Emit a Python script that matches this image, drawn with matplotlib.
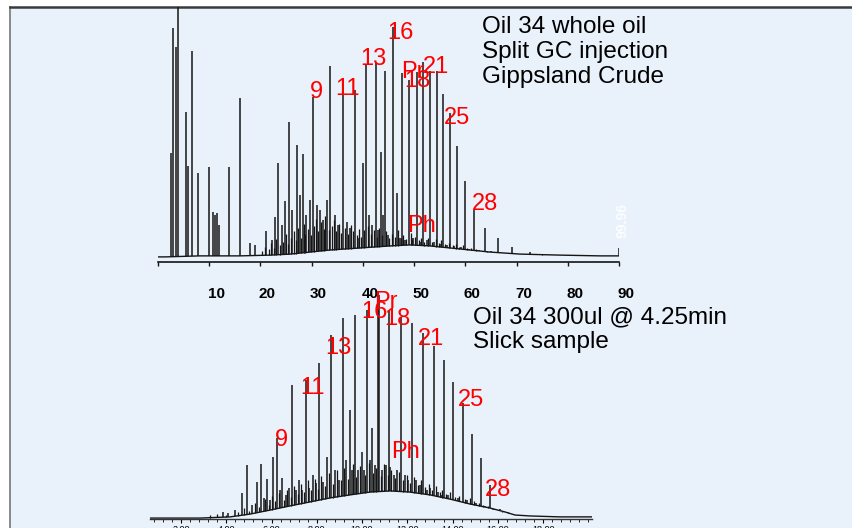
import numpy as np
import matplotlib
matplotlib.use("Agg")
import matplotlib.pyplot as plt

plt.rcParams['font.family'] = ['Liberation Sans', 'DejaVu Sans']

W, H = 853, 528

# ---- whole oil chromatogram (top), x in scale units 0-90, height in % ----
top_peak_x = [2.54, 2.93, 3.51, 3.90, 5.47, 5.86, 6.64, 7.81, 9.96,
              10.74, 11.13, 11.52, 11.91, 13.86, 16.01, 17.96, 18.94, 21.09,
              22.26, 22.84, 23.43, 24.21, 24.80, 25.58, 26.16, 27.14, 27.72,
              28.31, 28.90, 29.68, 30.26, 31.04, 31.63, 32.21, 33.00, 33.58,
              34.56, 35.14, 36.12, 36.90, 37.49, 38.46, 39.05, 40.02, 40.61,
              41.19, 41.78, 42.56, 42.95, 43.54, 43.93, 44.32, 44.90, 45.88,
              46.66, 47.25, 47.64, 48.22, 49.00, 49.78, 50.57, 51.15, 51.74,
              52.52, 53.10, 53.89, 54.47, 55.06, 55.64, 56.42, 57.01, 57.79,
              58.38, 59.16, 59.94, 60.72, 61.69, 62.67, 63.84, 65.01, 66.38,
              69.11, 72.63, 90.0]
top_peak_h = [42.7, 91.7, 84.3, 100, 58.8, 37.6, 82.7, 34.9, 37.2,
              19.6, 18.4, 19.2, 14.5, 37.2, 64.3, 7.4, 6.7, 12.2,
              8.6, 17.6, 38.8, 14.5, 23.9, 54.9, 20.4, 45.9, 26.3,
              42.3, 18.4, 24.3, 64.7, 22.3, 20.4, 16.5, 24.3, 76.8,
              18.4, 14.5, 65.9, 15.7, 13.3, 67.4, 9.4, 38.8, 77.2,
              18.4, 14.5, 78.0, 12.5, 43.1, 18.4, 74.9, 10.6, 92.1,
              27.0, 9.4, 74.1, 8.6, 71.3, 9.4, 74.5, 7.8, 78.4,
              8.6, 74.9, 7.8, 74.9, 7.1, 65.9, 6.7, 58.4, 6.3,
              45.5, 5.9, 31.8, 5.1, 20.4, 4.7, 13.3, 4.3, 9.4,
              5.9, 3.9, 5.5]

top_minor_x = [20.3, 20.9, 21.6, 22.0, 22.6, 23.0, 23.8, 24.4, 25.0, 25.3,
               25.9, 26.5, 26.9, 27.4, 27.9, 28.5, 28.7, 29.2, 29.9, 30.5,
               30.8, 31.3, 31.9, 32.4, 32.7, 33.3, 33.9, 34.3, 34.8, 35.4,
               35.8, 36.5, 37.0, 37.7, 38.1, 38.8, 39.3, 39.7, 40.3, 41.0,
               41.5, 42.1, 42.8, 43.2, 43.8, 44.6, 45.1, 45.6, 46.2, 46.9,
               47.4, 47.9, 48.5, 49.3, 49.6, 50.2, 50.9, 51.4, 52.0, 52.8,
               53.4, 54.2, 54.8, 55.3, 56.1, 56.8, 57.5, 58.1, 58.8, 59.5,
               60.3, 61.1, 62.0, 63.0, 64.2, 65.5, 67.5, 70.0, 75.0, 80.0]
top_minor_h = [4.5, 6.0, 5.0, 7.5, 5.5, 9.0, 6.5, 8.0, 11.0, 7.0,
               9.5, 12.0, 8.5, 13.5, 9.5, 15.0, 11.0, 13.0, 10.5, 14.0,
               17.0, 12.0, 15.5, 13.0, 18.0, 12.5, 14.0, 16.5, 12.0, 15.0,
               11.5, 13.5, 11.0, 14.5, 12.0, 10.5, 13.0, 10.0, 12.5, 14.0,
               11.0, 12.5, 10.0, 13.5, 10.5, 12.0, 9.5, 11.0, 10.0, 12.5,
               9.5, 10.5, 9.0, 11.5, 9.0, 10.0, 8.5, 9.5, 8.0, 9.5,
               8.0, 9.0, 7.5, 8.5, 7.0, 7.5, 6.5, 7.0, 6.0, 6.5,
               5.5, 5.5, 5.0, 4.5, 4.5, 4.0, 3.5, 3.0, 3.0, 2.8]

top_base_x = [0, 1.37, 8.2, 16.0, 21.9, 25.8, 29.7, 33.6, 39.4, 45.3,
              49.2, 53.1, 59.0, 64.8, 70.7, 78.5, 86.3, 90.0]
top_base_y = [2.0, 2.0, 2.4, 2.4, 2.7, 3.1, 3.9, 4.7, 5.5, 6.3,
              6.7, 6.3, 5.1, 3.9, 3.1, 2.7, 2.4, 2.4]

# ---- slick sample chromatogram (bottom), x in minutes ----
bot_peak_x = [3.86, 4.08, 4.39, 4.70, 4.92, 5.14, 5.36, 5.53, 5.67, 5.80,
              5.93, 6.07, 6.24, 6.38, 6.46, 6.64, 6.77, 6.91, 7.08, 7.21,
              7.35, 7.52, 7.66, 7.83, 7.96, 8.10, 8.28, 8.45, 8.63, 8.80,
              8.98, 9.16, 9.29, 9.47, 9.56, 9.69, 9.82, 10.00, 10.08, 10.22,
              10.35, 10.44, 10.57, 10.70, 10.75, 10.88, 11.06, 11.20, 11.24, 11.41,
              11.55, 11.72, 11.90, 12.03, 12.21, 12.38, 12.56, 12.69, 12.87, 13.00,
              13.18, 13.36, 13.49, 13.62, 13.80, 14.02, 14.24, 14.46, 14.64, 14.86,
              15.03, 15.25, 15.43, 15.65, 15.83, 16.10]
bot_peak_h = [3.0, 2.6, 3.8, 11.1, 23.1, 6.0, 15.8, 23.5, 9.0, 17.1,
              8.1, 26.5, 34.6, 12.4, 17.5, 10.3, 13.2, 57.3, 12.4, 16.7,
              12.4, 59.4, 13.2, 18.8, 15.4, 66.7, 15.8, 26.5, 78.6, 20.9,
              16.7, 85.9, 25.2, 46.6, 20.9, 87.2, 20.9, 28.6, 20.9, 89.3,
              25.2, 38.9, 23.1, 97.0, 95.7, 20.9, 23.1, 89.3, 22.2, 18.8,
              20.9, 86.3, 18.8, 16.7, 83.8, 16.7, 14.5, 79.5, 12.4, 13.2,
              73.9, 11.5, 10.3, 68.0, 10.3, 58.6, 9.0, 49.6, 8.1, 36.3,
              6.8, 26.1, 5.6, 14.5, 3.8, 4.3]

bot_minor_x = [3.3, 3.6, 4.0, 4.5, 4.8, 5.0, 5.25, 5.45, 5.7, 5.88,
               6.0, 6.15, 6.32, 6.55, 6.7, 6.85, 7.0, 7.15, 7.3, 7.45,
               7.6, 7.75, 7.9, 8.05, 8.2, 8.38, 8.55, 8.7, 8.9, 9.05,
               9.22, 9.38, 9.6, 9.75, 9.92, 10.12, 10.3, 10.5, 10.62, 10.82,
               10.97, 11.13, 11.3, 11.47, 11.62, 11.8, 11.97, 12.1, 12.3, 12.47,
               12.62, 12.8, 12.95, 13.1, 13.27, 13.45, 13.55, 13.72, 13.9, 14.1,
               14.3, 14.55, 14.75, 14.95, 15.15, 15.35, 15.55, 15.75, 15.95, 16.2,
               16.45, 16.7]
bot_minor_h = [1.5, 2.2, 1.8, 3.0, 4.5, 3.5, 7.0, 5.0, 8.5, 6.0,
               10.0, 7.5, 11.0, 8.0, 12.5, 9.5, 14.0, 10.5, 15.0, 11.5,
               16.5, 12.5, 17.0, 13.0, 18.5, 14.0, 19.5, 15.0, 21.0, 16.5,
               22.0, 17.0, 23.5, 18.0, 22.5, 19.0, 24.0, 19.5, 22.0, 18.5,
               23.5, 19.0, 21.0, 17.5, 20.0, 16.5, 19.0, 15.5, 18.0, 14.5,
               16.5, 13.5, 15.0, 12.5, 14.0, 11.5, 12.5, 10.5, 11.5, 9.5,
               10.0, 8.5, 9.0, 7.5, 7.0, 6.0, 5.5, 4.5, 4.0, 3.0,
               3.2, 1.8]

bot_base_x = [0.63, 2.84, 4.17, 5.05, 5.93, 6.82, 7.70, 8.58, 9.47, 10.35,
              11.24, 12.12, 13.0, 13.89, 14.77, 15.65, 16.32, 16.76, 17.42,
              18.75, 20.16]
bot_base_y = [0.4, 0.4, 0.9, 2.1, 3.8, 5.6, 7.3, 9.0, 10.3, 11.5,
              12.0, 11.5, 10.3, 8.5, 6.4, 4.7, 3.0, 1.7, 1.3, 0.9, 0.9]

top_ticks = [0, 10, 20, 30, 40, 50, 60, 70, 80, 90]
bot_ticks = [2, 4, 6, 8, 10, 12, 14, 16, 18]

# peak labels: text, x, y (baseline) in data units
top_labels = [("9", 30.85, 64.5), ("11", 36.9, 65.3), ("13", 41.98, 77.4),
              ("16", 47.25, 87.6), ("Pr", 49.79, 72.3), ("18", 50.57, 68.8),
              ("21", 54.27, 74.3), ("25", 58.38, 54.3), ("28", 63.84, 20.2),
              ("Ph", 51.54, 11.6)]
bot_labels = [("9", 6.42, 31.4), ("11", 7.79, 53.6), ("13", 8.94, 70.3),
              ("16", 10.53, 86.1), ("Pr", 11.06, 90.0), ("18", 11.54, 82.7),
              ("21", 13.05, 74.2), ("25", 14.81, 48.1), ("28", 16.0, 10.0),
              ("Ph", 11.90, 25.9)]

bg = '#E9F1FB'
ink = '#151515'


def box(x0, y0, x1, y1):
    return [x0 / W, 1 - y1 / H, (x1 - x0) / W, (y1 - y0) / H]


fig = plt.figure(figsize=(W / 100, H / 100), dpi=100, facecolor='white')

frame = fig.add_axes(box(10, 7, W, H))
frame.set_facecolor(bg)
frame.set_xticks([])
frame.set_yticks([])
for s in ['right', 'bottom']:
    frame.spines[s].set_visible(False)
frame.spines['top'].set_color('#3a3a3a')
frame.spines['top'].set_linewidth(1.8)
frame.spines['left'].set_color('#777777')
frame.spines['left'].set_linewidth(1.2)


def chromatogram(ax, px, ph, mx, mh, bx, by):
    mbase = np.interp(mx, bx, by)
    ax.vlines(mx, mbase, mh, color=ink, lw=0.9)
    pbase = np.interp(px, bx, by)
    ax.vlines(px, pbase, ph, color=ink, lw=1.1)
    ax.plot(bx, by, color=ink, lw=1.0)
    ax.set_facecolor('none')
    ax.set_ylim(0, 100)
    ax.set_yticks([])
    for s in ['left', 'right', 'top']:
        ax.spines[s].set_visible(False)


# top panel
ax1 = fig.add_axes(box(158, 7, 619, 262))
chromatogram(ax1, top_peak_x, top_peak_h, top_minor_x, top_minor_h,
             top_base_x, top_base_y)
ax1.set_xlim(0, 90)
ax1.spines['bottom'].set_color(ink)
ax1.spines['bottom'].set_linewidth(1.2)
ax1.set_xticks(top_ticks)
ax1.set_xticklabels([])
ax1.tick_params(axis='x', direction='out', length=3, width=1, color=ink)
for t in top_ticks[1:]:
    ax1.annotate(str(t), xy=(t, 0), xycoords=('data', 'axes fraction'),
                 xytext=(5, -23.4), textcoords='offset points',
                 ha='center', va='center', fontsize=11, fontweight='bold')
for s, x, y in top_labels:
    ax1.text(x, y, s, color='red', fontsize=17, ha='center', va='baseline')

# bottom panel
ax2 = fig.add_axes(box(150, 285, 592, 519))
chromatogram(ax2, bot_peak_x, bot_peak_h, bot_minor_x, bot_minor_h,
             bot_base_x, bot_base_y)
ax2.set_xlim(0.63, 20.16)
ax2.spines['bottom'].set_color('#333333')
ax2.spines['bottom'].set_linewidth(1.0)
ax2.set_xticks(bot_ticks)
ax2.set_xticklabels(['%.2f' % t for t in bot_ticks], fontsize=6.5)
ax2.set_xticks(np.arange(0.8, 20.1, 0.4), minor=True)
ax2.tick_params(axis='x', which='major', direction='out', length=3, width=0.8, pad=1)
ax2.tick_params(axis='x', which='minor', direction='out', length=2, width=0.6)
for s, x, y in bot_labels:
    ax2.text(x, y, s, color='red', fontsize=17, ha='center', va='baseline')

# captions
for i, line in enumerate(["Oil 34 whole oil", "Split GC injection", "Gippsland Crude"]):
    fig.text(482 / W, 1 - (33 + 25 * i) / H, line, fontsize=17.5, va='baseline')
for i, line in enumerate(["Oil 34 300ul @ 4.25min", "Slick sample"]):
    fig.text(473 / W, 1 - (323 + 25 * i) / H, line, fontsize=17.5, va='baseline')

fig.text(623 / W, 1 - 220 / H, "99.96", rotation=90, color='white', alpha=0.9,
         fontsize=10, fontweight='bold', ha='center', va='center')

fig.savefig("out.png", dpi=100, facecolor=fig.get_facecolor())
